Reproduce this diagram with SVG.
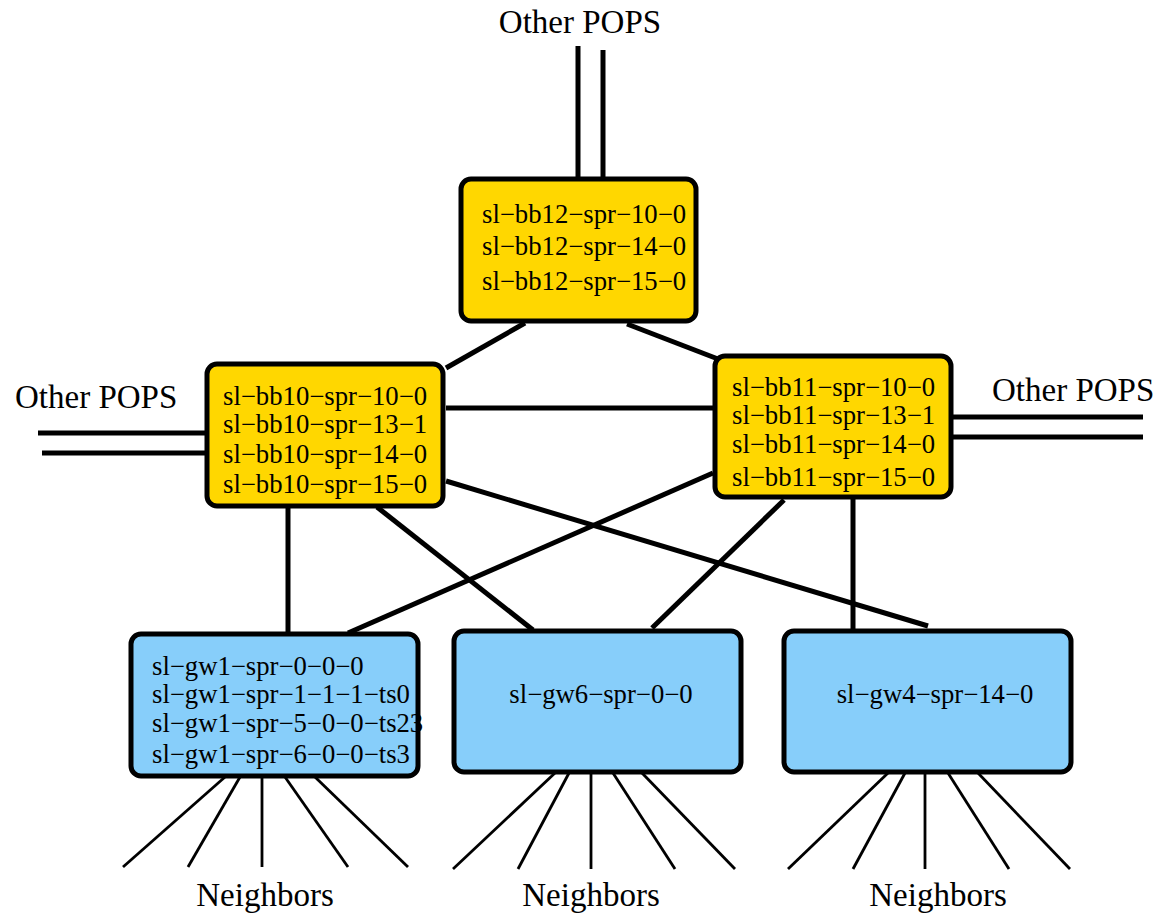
<svg xmlns="http://www.w3.org/2000/svg" width="1157" height="916" viewBox="0 0 1157 916">
<style>
.bb{fill:#FFD700;stroke:#000;stroke-width:5}
.gwf{fill:#87CEFA;stroke:none}
.gws{fill:none;stroke:#000;stroke-width:5}
.t{font-family:"Liberation Serif","Times New Roman",serif;font-size:26.7px;fill:#000}
.lbl{font-family:"Liberation Serif","Times New Roman",serif;font-size:33px;fill:#000}
.c line{stroke:#000;stroke-width:5}
.f line{stroke:#000;stroke-width:2.8}
</style>
<rect width="1157" height="916" fill="#fff"/>
<g id="connectors" class="c">
<line x1="578" y1="46" x2="578" y2="178"/>
<line x1="603" y1="50" x2="603" y2="178"/>
<line x1="38" y1="433" x2="206" y2="433"/>
<line x1="42" y1="453" x2="206" y2="453"/>
<line x1="953" y1="417" x2="1143" y2="417"/>
<line x1="953" y1="437" x2="1143" y2="437"/>
<line x1="525" y1="323" x2="446" y2="368"/>
<line x1="627" y1="324" x2="718" y2="359"/>
<line x1="446" y1="408" x2="714" y2="408"/>
<line x1="288" y1="507" x2="288" y2="632"/>
<line x1="377" y1="507" x2="533" y2="630"/>
<line x1="446" y1="481" x2="928" y2="626"/>
<line x1="713" y1="473" x2="348" y2="633"/>
<line x1="784" y1="500" x2="652" y2="628"/>
<line x1="853" y1="498" x2="853" y2="630"/>
</g>
<g id="fans" class="f">
<line x1="225" y1="777" x2="123" y2="867"/>
<line x1="240" y1="777" x2="188" y2="867"/>
<line x1="262" y1="777" x2="262" y2="867"/>
<line x1="285" y1="777" x2="348" y2="867"/>
<line x1="315" y1="777" x2="408" y2="867"/>
<line x1="555" y1="773" x2="453" y2="869"/>
<line x1="569" y1="773" x2="518" y2="869"/>
<line x1="591" y1="773" x2="591" y2="869"/>
<line x1="613" y1="773" x2="675" y2="869"/>
<line x1="642" y1="773" x2="735" y2="869"/>
<line x1="888" y1="773" x2="788" y2="869"/>
<line x1="905" y1="773" x2="853" y2="869"/>
<line x1="925" y1="773" x2="925" y2="869"/>
<line x1="948" y1="773" x2="1009" y2="869"/>
<line x1="978" y1="773" x2="1070" y2="869"/>
</g>
<g id="bb12">
<rect class="bb" x="461" y="179" width="235" height="142" rx="10"/>
<text class="t" x="482" y="223">sl−bb12−spr−10−0</text>
<text class="t" x="482" y="255">sl−bb12−spr−14−0</text>
<text class="t" x="482" y="290">sl−bb12−spr−15−0</text>
</g>
<g id="bb10">
<rect class="bb" x="207" y="364" width="236" height="142" rx="10"/>
<text class="t" x="223" y="405">sl−bb10−spr−10−0</text>
<text class="t" x="223" y="433">sl−bb10−spr−13−1</text>
<text class="t" x="223" y="463">sl−bb10−spr−14−0</text>
<text class="t" x="223" y="493">sl−bb10−spr−15−0</text>
</g>
<g id="bb11">
<rect class="bb" x="715" y="356" width="236" height="141" rx="10"/>
<text class="t" x="732" y="396">sl−bb11−spr−10−0</text>
<text class="t" x="732" y="424">sl−bb11−spr−13−1</text>
<text class="t" x="732" y="453">sl−bb11−spr−14−0</text>
<text class="t" x="732" y="486">sl−bb11−spr−15−0</text>
</g>
<g id="gw1">
<rect class="gwf" x="131" y="634" width="287" height="142" rx="10"/>
<text class="t" x="152" y="675">sl−gw1−spr−0−0−0</text>
<text class="t" x="152" y="703">sl−gw1−spr−1−1−1−ts0</text>
<text class="t" x="152" y="732">sl−gw1−spr−5−0−0−ts23</text>
<text class="t" x="152" y="763">sl−gw1−spr−6−0−0−ts3</text>
<rect class="gws" x="131" y="634" width="287" height="142" rx="10"/>
</g>
<g id="gw6">
<rect class="gwf" x="454" y="631" width="287" height="141" rx="10"/>
<rect class="gws" x="454" y="631" width="287" height="141" rx="10"/>
<text class="t" x="601" y="703" text-anchor="middle">sl−gw6−spr−0−0</text>
</g>
<g id="gw4">
<rect class="gwf" x="784" y="631" width="287" height="141" rx="10"/>
<rect class="gws" x="784" y="631" width="287" height="141" rx="10"/>
<text class="t" x="935" y="703" text-anchor="middle">sl−gw4−spr−14−0</text>
</g>
<g id="labels">
<text class="lbl" x="580" y="33" text-anchor="middle">Other POPS</text>
<text class="lbl" x="15" y="408">Other POPS</text>
<text class="lbl" x="992" y="401">Other POPS</text>
<text class="lbl" x="265" y="906" text-anchor="middle">Neighbors</text>
<text class="lbl" x="591" y="906" text-anchor="middle">Neighbors</text>
<text class="lbl" x="938" y="906" text-anchor="middle">Neighbors</text>
</g>
</svg>
